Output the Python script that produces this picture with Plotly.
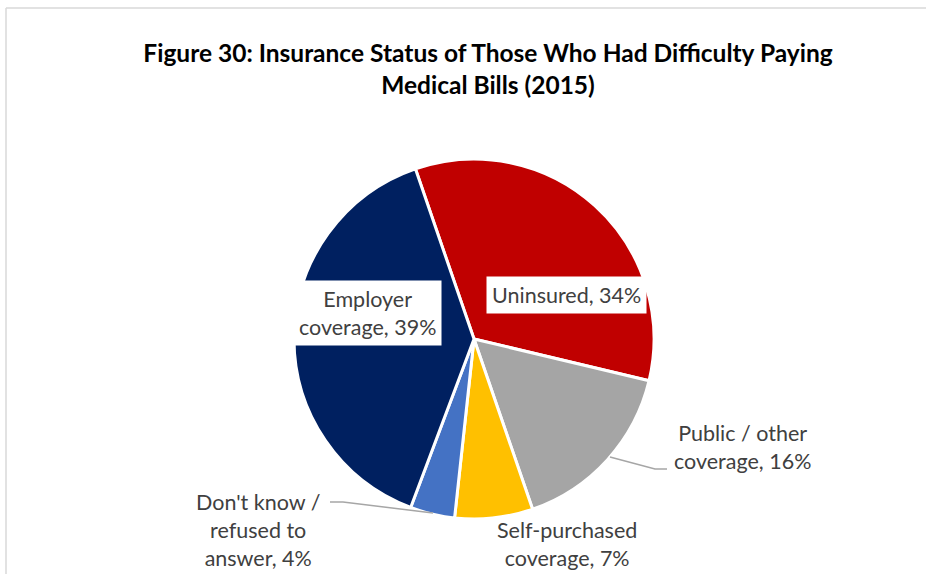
import plotly.graph_objects as go

# Figure 30 data
labels = ['Uninsured', 'Public / other coverage', 'Self-purchased coverage',
          "Don't know / refused to answer", 'Employer coverage']
values = [34, 16, 7, 4, 39]
colors = ['#C00000', '#A5A5A5', '#FFC000', '#4472C4', '#002060']

# label text with line breaks as in the original
label_lines = ['Uninsured', 'Public / other<br>coverage', 'Self-purchased<br>coverage',
               "Don't know /<br>refused to<br>answer", 'Employer<br>coverage']

W, H = 926, 574

def px(x, y):
    return x / W, (H - y) / H

fig = go.Figure()

fig.add_trace(go.Pie(
    labels=labels,
    values=values,
    sort=False,
    direction='clockwise',
    rotation=-19,
    marker=dict(colors=colors, line=dict(color='white', width=3)),
    textinfo='none',
    hoverinfo='label+percent',
    showlegend=False,
    domain=dict(x=[294 / W, 654 / W], y=[(H - 519) / H, (H - 159) / H]),
))

# label placement (pixel centres) and whether they sit on a white box
label_pos = [(566, 295, True), (742, 447, False), (567, 544, False),
             (258, 530, False), (367, 313, True)]

font = dict(family='Lato, Open Sans, sans-serif', size=21.5, color='#404040')
for lab, v, (x, y, boxed) in zip(label_lines, values, label_pos):
    xx, yy = px(x, y)
    fig.add_annotation(
        x=xx, y=yy, xref='paper', yref='paper',
        text=f'{lab}, {v}%', showarrow=False, font=font,
        bgcolor='white' if boxed else None,
        borderpad=5 if boxed else 0,
        xanchor='center', yanchor='middle', align='center',
    )

# leader lines
def path(points):
    pts = [px(x, y) for x, y in points]
    return 'M ' + ' L '.join(f'{a},{b}' for a, b in pts)

shapes = [
    dict(type='path', xref='paper', yref='paper', path=path([(610, 457), (655, 469), (667, 469)]),
         line=dict(color='#A6A6A6', width=1.5)),
    dict(type='path', xref='paper', yref='paper', path=path([(330, 502), (343, 502), (433, 513)]),
         line=dict(color='#A6A6A6', width=1.5)),
    # chart frame edges
    dict(type='line', xref='paper', yref='paper', x0=6 / W, x1=1, y0=(H - 8) / H, y1=(H - 8) / H,
         line=dict(color='#D9D9D9', width=1.5)),
    dict(type='line', xref='paper', yref='paper', x0=6 / W, x1=6 / W, y0=0, y1=(H - 8) / H,
         line=dict(color='#D9D9D9', width=1.5)),
]

fig.update_layout(
    width=W, height=H,
    margin=dict(l=0, r=0, t=0, b=0),
    paper_bgcolor='white',
    plot_bgcolor='white',
    shapes=shapes,
    title=dict(
        text='<b>Figure 30: Insurance Status of Those Who Had Difficulty Paying<br>Medical Bills (2015)</b>',
        x=488 / W, xanchor='center', y=(H - 62) / H, yanchor='middle',
        font=dict(family='Lato, Open Sans, sans-serif', size=24.5, color='black'),
    ),
)

fig.write_html('out.html', config={'displayModeBar': False},
               post_script="document.body.style.margin='0';")
